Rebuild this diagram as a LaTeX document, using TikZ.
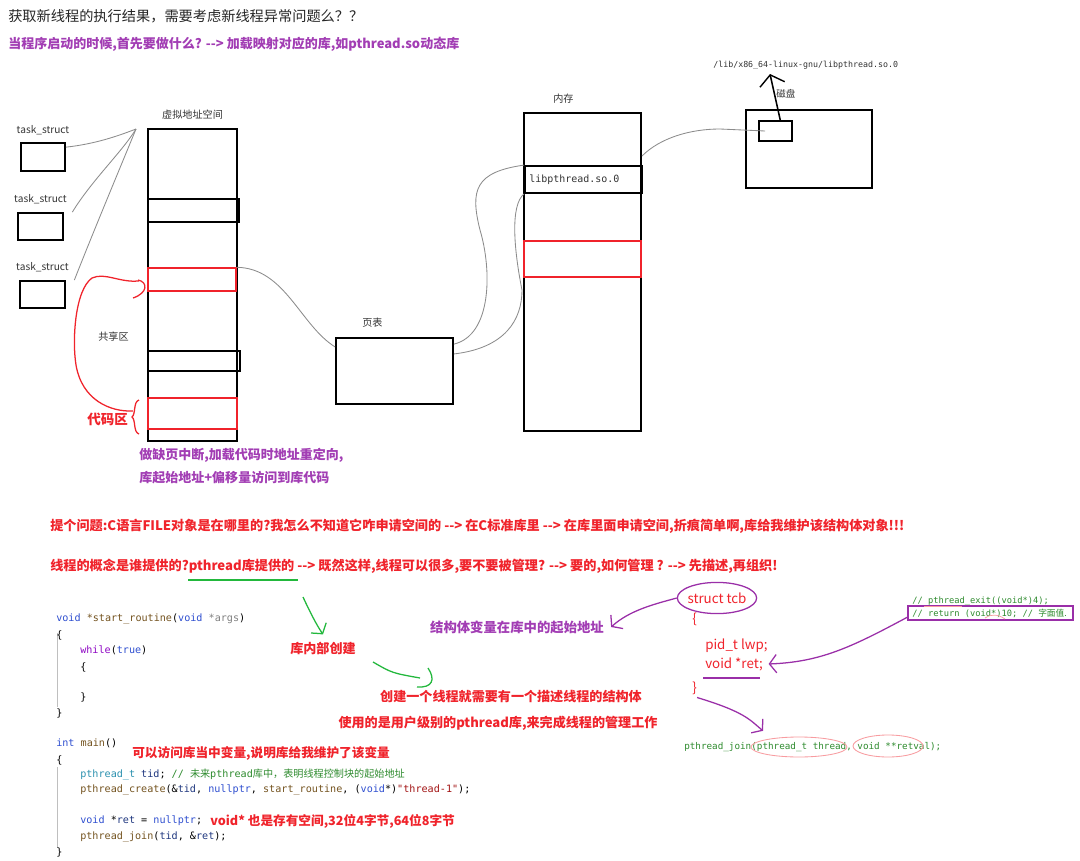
\documentclass[tikz,border=0pt]{standalone}
\usepackage{fontspec}
\setmainfont{Noto Sans CJK SC}
\newfontfamily\codefont{DejaVu Sans Mono}
\newfontfamily\cjk{Noto Sans CJK SC}
\usetikzlibrary{shapes.geometric, arrows.meta, positioning, fit}
\definecolor{notered}{HTML}{F0232B}
\definecolor{notepurple}{HTML}{A23DB4}
\definecolor{penpurple}{HTML}{9A2FA8}
\definecolor{pengreen}{HTML}{22B83C}
\definecolor{pengray}{HTML}{8C8C8C}
\definecolor{codeblue}{HTML}{2F4FD0}
\definecolor{codebrown}{HTML}{74531F}
\definecolor{codenavy}{HTML}{1F377F}
\definecolor{codeteal}{HTML}{2B91AF}
\definecolor{codegreen}{HTML}{2E8B2E}
\definecolor{codestr}{HTML}{A31515}
\definecolor{codectl}{HTML}{8F08C4}
\definecolor{codegray}{HTML}{808080}

\begin{document}
\begin{tikzpicture}[x=0.025cm, y=-0.025cm,
  blk/.style={draw=black, line width=1.3pt, inner sep=0},
  redblk/.style={draw=notered, line width=1pt, inner sep=0},
  txt/.style={inner sep=0, anchor=west, text=black!80, font=\fontsize{7.2}{8}\selectfont},
  rednote/.style={inner sep=0, anchor=west, text=notered, font=\fontsize{9.3}{11}\selectfont\bfseries},
  purplenote/.style={inner sep=0, anchor=west, text=notepurple, font=\fontsize{9.25}{11}\selectfont\bfseries},
  code/.style={inner sep=0, anchor=west, font=\fontsize{7.2}{9}\codefont},
  wire/.style={draw=pengray, line width=0.6pt},
  redpen/.style={draw=notered, line width=0.9pt},
  greenpen/.style={draw=pengreen, line width=0.9pt},
  purplepen/.style={draw=penpurple, line width=0.9pt},
  pentip/.style={-{Straight Barb[length=5pt, width=13pt]}}]

  \fill[white] (0,0) rectangle (1080,861);
  \useasboundingbox (0,0) rectangle (1080,861);

  % headings
  \node[txt, text=black!85, font=\fontsize{10.1}{12}\selectfont] (title) at (8,16) {获取新线程的执行结果，需要考虑新线程异常问题么？？};
  \node[purplenote] (loadq) at (8,44) {当程序启动的时候,首先要做什么? -{}-> 加载映射对应的库,如pthread.so动态库};

  % task_structs
  \node[blk, fit={(21,143) (65,171)}] (t1) {};
  \node[blk, fit={(18,213) (63,240)}] (t2) {};
  \node[blk, fit={(20,281) (65,308)}] (t3) {};
  \node[txt, above=0.17cm of t1] {task\_struct};
  \node[txt, above=0.19cm of t2] {task\_struct};
  \node[txt, above=0.19cm of t3] {task\_struct};

  % virtual address space
  \node[blk, fit={(148,129) (237,441)}] (vas) {};
  \node[txt, above=0.22cm of vas] (vaslbl) {虚拟地址空间};
  \node[blk, fit={(148,199) (239,222)}] (vseg1) {};
  \node[redblk, fit={(148,268) (236,291)}] (vshare) {};
  \node[blk, fit={(148,351) (240,371)}] (vseg2) {};
  \node[redblk, fit={(148,398) (237,429)}] (vcode) {};
  \node[txt] (sharelbl) at (98,337) {共享区};
  \node[rednote, font=\fontsize{9.6}{11}\selectfont\bfseries] (codelbl) at (87,419) {代码区};
  \coordinate (vhook) at (136,129);

  \draw[wire] ([yshift=7pt]t1.east) .. controls (95,144) and (118,136) .. (vhook);
  \draw[wire] ([xshift=6pt]t2.north east) .. controls (92,180) and (122,152) .. (vhook);
  \draw[wire] ([xshift=6pt]t3.north east) .. controls (92,235) and (120,168) .. (vhook);

  % red scribbles
  \draw[redpen] (133,298) .. controls (148,293) and (148,282) .. (138,280);
  \draw[redpen] ([xshift=-6pt, yshift=-1pt]vshare.west) .. controls (120,283) and (105,272) .. (92,278)
    .. controls (75,290) and (72,340) .. (76,365) .. controls (82,400) and (110,412) .. (133,411);
  \draw[redpen] (139,400) .. controls (133,402) and (136,414) .. (132,417) .. controls (136,420) and (133,432) .. (139,434);

  % page table
  \node[blk, fit={(336,338) (453,404)}] (pt) {};
  \node[txt] (ptlbl) at (362,323) {页表};
  \draw[wire] (vshare.north east) .. controls (285,268) and (300,325) .. ([yshift=-7pt]pt.north west);

  % memory
  \node[blk, fit={(524,113) (641,431)}] (mem) {};
  \node[txt] (memlbl) at (553,99) {内存};
  \node[blk, fit={(525,166) (642,193)}] (libseg) {};
  \node[code, font=\fontsize{7.1}{9}\codefont, text=black!80] (libtxt) at (529,180) {libpthread.so.0};
  \node[redblk, fit={(524,241) (641,277)}] (mred) {};

  \draw[wire] ([yshift=-5pt]pt.north east) .. controls (492,335) and (492,270) .. (480,230)
    .. controls (470,190) and (475,172) .. (libseg.north west);
  \draw[wire] ([yshift=-12pt]pt.north east) .. controls (505,348) and (522,320) .. (522,290)
    .. controls (514,250) and (510,205) .. (libseg.south west);

  % disk
  \node[blk, fit={(746,110) (872,188)}] (disk) {};
  \node[blk, fit={(759,121) (792,141)}] (diskfile) {};
  \node[txt, font=\fontsize{6.8}{8}\selectfont] (disklbl) at (776,94) {磁盘};
  \node[code, font=\fontsize{5.9}{7}\codefont, text=black!80] (libpath) at (713,65) {/lib/x86\_64-linux-gnu/libpthread.so.0};
  \coordinate (pathtip) at (770,74);
  \draw[black, line width=1.1pt, -{Straight Barb[length=7pt, width=18pt, line width=1pt]}] ([xshift=-9pt]diskfile.north east) -- (pathtip);
  \coordinate (memhook) at (642,156);
  \draw[wire] (memhook) .. controls (660,138) and (690,129) .. (720,129) -- ([xshift=5pt]diskfile.west);

  % notes under the address space
  \node[purplenote] (pfault) at (139,455) {做缺页中断,加载代码时地址重定向,};
  \node[purplenote] (offset) at (139,478) {库起始地址+偏移量访问到库代码};

  % questions
  \node[rednote, font=\fontsize{9.35}{11}\selectfont\bfseries] (fileq) at (50,526) {提个问题:C语言FILE对象是在哪里的?我怎么不知道它咋申请空间的 -{}-> 在C标准库里 -{}-> 在库里面申请空间,折痕简单啊,库给我维护该结构体对象!!!};
  \node[rednote, font=\fontsize{9.35}{11}\selectfont\bfseries] (threadq) at (50,566) {线程的概念是谁提供的?pthread库提供的 -{}-> 既然这样,线程可以很多,要不要被管理? -{}-> 要的,如何管理 ? -{}-> 先描述,再组织!};
  \draw[greenpen] (188,580) -- (298,580);

  \node[rednote] (libcreate) at (290,648) {库内部创建};
  \draw[greenpen, pentip] (303,597) .. controls (310,612) and (316,624) .. ([yshift=5pt]libcreate.north);
  \node[rednote, anchor=center] (tcbneed) at (511,697) {创建一个线程就需要有一个描述线程的结构体};
  \node[rednote, anchor=center] (userlib) at (498,723) {使用的是用户级别的pthread库,来完成线程的管理工作};
  \draw[greenpen] (373,662) .. controls (392,673) .. (420,678);
  \draw[greenpen] (428,668) .. controls (436,680) and (432,688) .. (417,687);

  % user code
  \draw[black!25, line width=0.6pt] (57,633) -- (57,707);
  \draw[black!25, line width=0.6pt] (57,767) -- (57,848);
  \node[code] (c1) at (56,619) {\color{codeblue}void \color{codebrown}*start\_routine\color{black}(\color{codeblue}void \color{codegray}*args\color{black})};
  \node[code, text=black] (c2) at (56,635) {\{};
  \node[code] (c3) at (80,650) {\color{codectl}while\color{black}(\color{codeblue}true\color{black})};
  \node[code, text=black] (c4) at (80,667) {\{};
  \node[code, text=black] (c5) at (80,697) {\}};
  \node[code, text=black] (c6) at (56,713) {\}};
  \node[code] (c7) at (56,743) {\color{codeblue}int \color{codebrown}main\color{black}()};
  \node[code, text=black] (c8) at (56,760) {\{};
  \node[code] (c9) at (80,774) {\color{codeteal}pthread\_t \color{codenavy}tid\color{black}; \color{codegreen}// {\cjk 未来}pthread{\cjk 库中，表明线程控制块的起始地址}};
  \node[code] (c10) at (80,790) {\color{codebrown}pthread\_create\color{black}(\&\color{codenavy}tid\color{black}, \color{codeblue}nullptr\color{black}, \color{codebrown}start\_routine\color{black}, (\color{codeblue}void\color{black}*)\color{codestr}"thread-1"\color{black});};
  \node[code] (c11) at (80,821) {\color{codeblue}void \color{black}*\color{codenavy}ret \color{black}= \color{codeblue}nullptr\color{black};};
  \node[code] (c12) at (80,837) {\color{codebrown}pthread\_join\color{black}(\color{codenavy}tid\color{black}, \&\color{codenavy}ret\color{black});};
  \node[code, text=black] (c13) at (56,852) {\}};
  \node[rednote, font=\fontsize{9}{11}\selectfont\bfseries] (accessnote) at (132,753) {可以访问库当中变量,说明库给我维护了该变量};
  \node[rednote, font=\fontsize{9}{11}\selectfont\bfseries] (voidnote) at (210,821) {void* 也是存有空间,32位4字节,64位8字节};

  % struct tcb
  \node[ellipse, draw=penpurple, line width=0.9pt, inner xsep=-1pt, inner ysep=4pt, text=notered, font=\fontsize{9.5}{11}\selectfont] (tcbname) at (717,598) {struct tcb};
  \node[txt, text=notered, font=\fontsize{9.5}{11}\selectfont] (tcbopen) at (692,619) {\{};
  \node[txt, text=notered, font=\fontsize{9.5}{11}\selectfont] (lwp) at (705,646) {pid\_t lwp;};
  \node[txt, text=notered, font=\fontsize{9.5}{11}\selectfont] (ret) at (705,664) {void *ret;};
  \node[txt, text=notered, font=\fontsize{9.5}{11}\selectfont] (tcbclose) at (692,688) {\}};
  \draw[purplepen] (703,678) -- (760,678);

  \node[purplenote, font=\fontsize{9.5}{11}\selectfont\bfseries, anchor=center] (addrnote) at (517,627) {结构体变量在库中的起始地址};
  \draw[purplepen, pentip] (tcbname.west) .. controls (655,604) and (630,610) .. ([xshift=5pt]addrnote.east);

  % exit value snippet
  \node[code, font=\fontsize{6.2}{7}\codefont, text=codegreen] (exitln) at (912,601) {// pthread\_exit((void*)4);};
  \node[code, font=\fontsize{6.2}{7}\codefont, text=codegreen] (retln) at (912,613) {// return (void*)10; // {\cjk 字面值.}};
  \node[draw=penpurple, line width=1pt, inner sep=0, fit={(908,606) (1073,620)}] (retbox) {};
  \draw[notered!45, line width=0.5pt] (924,606) -- (962,606);
  \draw[notered!45, line width=0.5pt] (985,618) .. controls (990,614) and (998,614) .. (1005,619);
  \draw[purplepen, pentip] ([yshift=-3pt]retbox.west) .. controls (850,648) and (820,662) .. ([xshift=4pt]ret.east);

  % pthread_join prototype
  \node[code, font=\fontsize{6.6}{8}\codefont, text=codegreen] (joinproto) at (684,747) {pthread\_join(pthread\_t thread, void **retval);};
  \draw[notered!45, line width=0.6pt] (799,747) ellipse [x radius=48, y radius=10];
  \draw[notered!45, line width=0.6pt] (888,746) ellipse [x radius=35, y radius=11];
  \draw[purplepen, pentip] ([yshift=-2pt]tcbclose.south east) .. controls (745,712) and (750,720) .. ([yshift=8pt]joinproto.north -| 763,0);
\end{tikzpicture}
\end{document}
